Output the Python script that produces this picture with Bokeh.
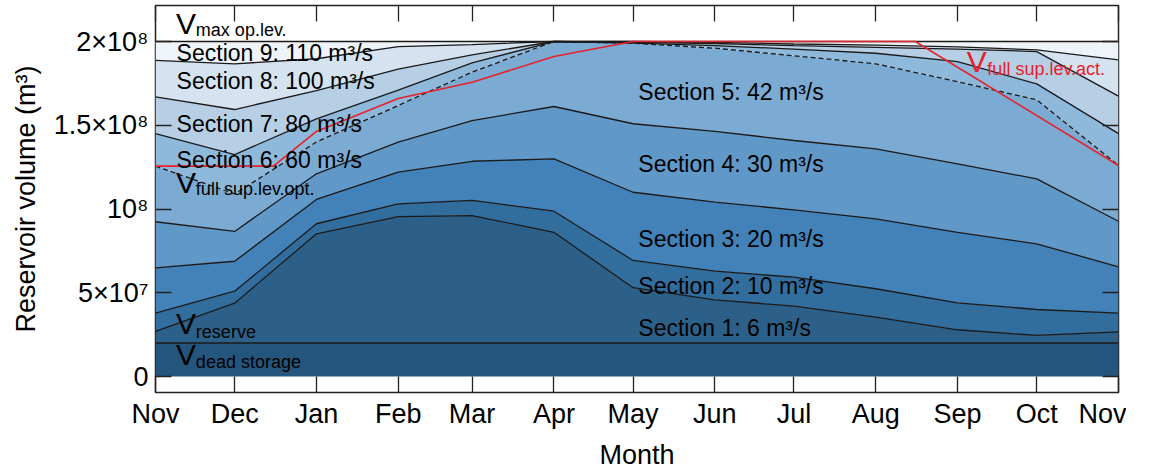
from bokeh.plotting import figure
from bokeh.models import Range1d, FixedTicker, LinearAxis, Label
from bokeh.embed import file_html
from bokeh.resources import INLINE

# ---- data ----
months = ["Nov", "Dec", "Jan", "Feb", "Mar", "Apr", "May", "Jun", "Jul", "Aug", "Sep", "Oct", "Nov"]
day = [0, 30, 61, 92, 120, 151, 181, 212, 242, 273, 304, 334, 365]

v_zero = [0.0] * 13
v_dead = [2.0e7] * 13
v_sec1 = [2.69e7, 4.38e7, 8.52e7, 9.55e7, 9.61e7, 8.61e7, 5.30e7, 4.58e7, 4.20e7, 3.55e7, 2.79e7, 2.45e7, 2.67e7]
v_sec2 = [3.78e7, 5.09e7, 9.12e7, 1.031e8, 1.051e8, 9.87e7, 6.93e7, 6.29e7, 5.93e7, 5.24e7, 4.40e7, 4.00e7, 3.78e7]
v_sec3 = [6.49e7, 6.88e7, 1.057e8, 1.22e8, 1.285e8, 1.299e8, 1.10e8, 1.041e8, 9.95e7, 9.41e7, 8.61e7, 7.92e7, 6.55e7]
v_sec4 = [9.24e7, 8.66e7, 1.21e8, 1.399e8, 1.528e8, 1.612e8, 1.509e8, 1.464e8, 1.409e8, 1.359e8, 1.27e8, 1.18e8, 9.27e7]
v_opt = [1.256e8, 1.09e8, 1.40e8, 1.618e8, 1.817e8, 2.0e8, 1.99e8, 1.96e8, 1.915e8, 1.867e8, 1.76e8, 1.652e8, 1.26e8]
v_sec6 = [1.45e8, 1.325e8, 1.538e8, 1.71e8, 1.872e8, 2.0e8, 1.99e8, 1.975e8, 1.955e8, 1.93e8, 1.88e8, 1.747e8, 1.45e8]
v_sec7 = [1.67e8, 1.594e8, 1.707e8, 1.835e8, 1.92e8, 2.0e8, 1.995e8, 1.988e8, 1.975e8, 1.965e8, 1.955e8, 1.94e8, 1.674e8]
v_sec8 = [1.887e8, 1.867e8, 1.897e8, 1.97e8, 1.982e8, 2.0e8, 2.0e8, 1.995e8, 1.985e8, 1.978e8, 1.968e8, 1.95e8, 1.89e8]
v_max = [2.0e8] * 13

act_day = [0, 44.7, 61, 92, 120, 151, 181, 288, 365]
v_act = [1.256e8, 1.256e8, 1.463e8, 1.66e8, 1.757e8, 1.91e8, 2.0e8, 2.0e8, 1.26e8]

section_labels = ["Section 1: 6 m³/s", "Section 2: 10 m³/s", "Section 3: 20 m³/s",
                  "Section 4: 30 m³/s", "Section 5: 42 m³/s", "Section 6: 60 m³/s",
                  "Section 7: 80 m³/s", "Section 8: 100 m³/s", "Section 9: 110 m³/s"]
section_label_day = [183, 183, 183, 183, 183, 8, 8, 8, 8]
section_label_vol = [2.87e7, 5.43e7, 8.21e7, 1.269e8, 1.701e8, 1.29e8, 1.507e8, 1.767e8, 1.934e8]

y_ticks = [0, 50000000, 100000000, 150000000, 200000000]
y_tick_labels = ["0", "5×10⁷", "10⁸", "1.5×10⁸", "2×10⁸"]

# ---- style ----
FONT = "Liberation Sans"
fills = ["#24567d", "#2c6089", "#316e9e", "#4282b8", "#6098c8",
         "#7babd3", "#8fb9da", "#b7cfe5", "#d5e3f0", "#eef4f9"]

p = figure(frame_width=963, frame_height=387, output_backend="svg", toolbar_location=None,
           x_range=Range1d(0, 365), y_range=Range1d(-0.0955e8, 2.215e8),
           min_border_left=155, min_border_right=8, min_border_top=5, min_border_bottom=76)
p.grid.visible = False
p.outline_line_color = "#222222"
p.outline_line_width = 1.5
p.background_fill_color = "white"

bounds = [v_zero, v_dead, v_sec1, v_sec2, v_sec3, v_sec4, v_opt, v_sec6, v_sec7, v_sec8, v_max]
for i in range(10):
    p.varea(x=day, y1=bounds[i], y2=bounds[i + 1], fill_color=fills[i])

for b in [v_dead, v_sec1, v_sec2, v_sec3, v_sec4, v_sec6, v_sec7, v_sec8, v_max]:
    p.line(day, b, line_color="#1a1a1a", line_width=1.3)
p.line(day, v_opt, line_color="#1a1a1a", line_width=1.3, line_dash="5 3")
p.line(act_day, v_act, line_color="#e8202a", line_width=1.6)

# axes
p.xaxis.ticker = FixedTicker(ticks=day)
p.xaxis.major_label_overrides = {d: m for d, m in zip(day, months)}
p.yaxis.ticker = FixedTicker(ticks=y_ticks)
p.yaxis.major_label_overrides = {t: l for t, l in zip(y_ticks, y_tick_labels)}
for ax in [p.xaxis[0], p.yaxis[0]]:
    ax.major_tick_in = 16
    ax.major_tick_out = 0
    ax.minor_tick_line_color = None
    ax.major_tick_line_color = "#222222"
    ax.major_tick_line_width = 1.3
    ax.axis_line_color = None
    ax.major_label_text_font = FONT
    ax.major_label_text_font_size = "27px"
    ax.major_label_text_color = "black"
    ax.axis_label_text_font = FONT
    ax.axis_label_text_font_size = "27px"
    ax.axis_label_text_font_style = "normal"
    ax.axis_label_text_color = "black"
p.xaxis.axis_label = "Month"
p.yaxis.axis_label = "Reservoir volume (m³)"
p.xaxis.major_label_standoff = 6
p.xaxis.axis_label_standoff = 8
p.yaxis.major_label_standoff = 7
p.yaxis.axis_label_standoff = 10

top = LinearAxis(ticker=FixedTicker(ticks=day), major_tick_in=16, major_tick_out=0,
                 minor_tick_line_color=None, axis_line_color=None,
                 major_label_text_color=None, major_label_text_font_size="1px",
                 major_label_standoff=0,
                 major_tick_line_color="#222222", major_tick_line_width=1.3)
right = LinearAxis(ticker=FixedTicker(ticks=y_ticks), major_tick_in=16, major_tick_out=0,
                   minor_tick_line_color=None, axis_line_color=None,
                   major_label_text_color=None, major_label_text_font_size="1px",
                   major_label_standoff=0,
                   major_tick_line_color="#222222", major_tick_line_width=1.3)
p.add_layout(top, "above")
p.add_layout(right, "right")

# section labels
for t, dx, vy in zip(section_labels, section_label_day, section_label_vol):
    p.add_layout(Label(x=dx, y=vy, text=t, text_font=FONT, text_font_size="23px",
                       text_color="black", text_baseline="middle"))

# V labels
def vlabel(x_v, y_v, x_s, y_s, sub, color="black"):
    p.add_layout(Label(x=x_v, y=y_v, text="V", text_font=FONT, text_font_size="30px",
                       text_color=color, text_baseline="alphabetic"))
    p.add_layout(Label(x=x_s, y=y_s, text=sub, text_font=FONT, text_font_size="18px",
                       text_color=color, text_baseline="alphabetic"))

vlabel(7.8, 2.105e8, 15.3, 2.066e8, "max op.lev.")
vlabel(7.8, 1.16e8, 15.3, 1.117e8, "full sup.lev.opt.")
vlabel(7.8, 0.315e8, 15.3, 0.267e8, "reserve")
vlabel(7.8, 0.13e8, 15.3, 0.088e8, "dead storage")
vlabel(307.5, 1.881e8, 315.3, 1.833e8, "full sup.lev.act.", color="#e8202a")

open("out.html", "w").write(file_html(p, INLINE))
